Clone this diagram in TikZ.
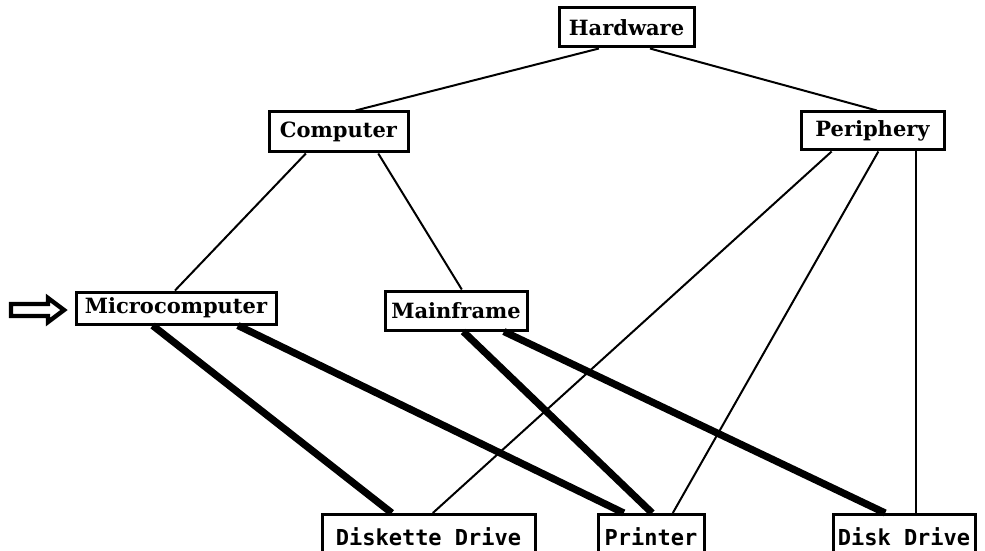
\documentclass[tikz,border=0pt]{standalone}
\usepackage{fontspec}
\newfontfamily\boxserif{DejaVu Serif}
\newfontfamily\boxmono{DejaVu Sans Mono}
\usetikzlibrary{calc}
\tikzset{
  box/.style={draw, line width=1.5pt, inner sep=0pt, font=\boxserif\bfseries\fontsize{10.5}{12}\selectfont},
  monobox/.style={box, font=\boxmono\bfseries\fontsize{11}{13}\selectfont},
  thin/.style={line width=1pt},
  thick/.style={line width=3.6pt},
}
\newcommand{\pt}[3]{($(#1.south west)!#2!(#1.south east)$)}
\newcommand{\ptn}[3]{($(#1.north west)!#2!(#1.north east)$)}
\begin{document}
\begin{tikzpicture}[x=0.5pt,y=-0.5pt]
\useasboundingbox (0,0) rectangle (985,551);
\fill[white] (0,0) rectangle (985,551);
% nodes
\node[box, minimum width=67.5pt, minimum height=19.5pt] (hw) at (626.5,27.5) {Hardware};
\node[box, minimum width=69.5pt, minimum height=20pt] (co) at (338.5,132) {Computer};
\node[box, minimum width=71.5pt, minimum height=19pt] (pe) at (872.5,131) {Periphery};
\node[box, minimum width=100pt, minimum height=16pt] (mi) at (176,308) {Microcomputer};
\node[box, minimum width=71pt, minimum height=19.5pt] (ma) at (456,310.5) {Mainframe};
\node[monobox, minimum width=106.5pt, minimum height=22pt, anchor=north] (dd) at (428.5,513) {Diskette Drive};
\node[monobox, minimum width=53pt, minimum height=22pt, anchor=north] (pr) at (651,513) {Printer};
\node[monobox, minimum width=71pt, minimum height=22pt, anchor=north] (dk) at (904,513) {Disk Drive};
\coordinate (pev) at ($(pe.south west)!0.80!(pe.south east)$);
% thin edges
\draw[thin] \pt{hw}{0.30}{} -- \ptn{co}{0.62}{};
\draw[thin] \pt{hw}{0.67}{} -- \ptn{pe}{0.53}{};
\draw[thin] \pt{co}{0.27}{} -- \ptn{mi}{0.495}{};
\draw[thin] \pt{co}{0.78}{} -- \ptn{ma}{0.54}{};
\draw[thin] \pt{pe}{0.22}{} -- \ptn{dd}{0.52}{};
\draw[thin] \pt{pe}{0.54}{} -- \ptn{pr}{0.70}{};
\draw[thin] (pev) -- (pev |- dk.north);
% thick edges
\draw[thick] \pt{mi}{0.385}{} -- \ptn{dd}{0.33}{};
\draw[thick] \pt{mi}{0.805}{} -- \ptn{pr}{0.25}{};
\draw[thick] \pt{ma}{0.55}{} -- \ptn{pr}{0.51}{};
\draw[thick] \pt{ma}{0.83}{} -- \ptn{dk}{0.37}{};
% pointer arrow
\draw[line width=2.2pt, line join=miter]
  (11,304) -- (48,304) -- (48,298) -- (64,310) -- (48,322) -- (48,316) -- (11,316) -- cycle;
\end{tikzpicture}
\end{document}
